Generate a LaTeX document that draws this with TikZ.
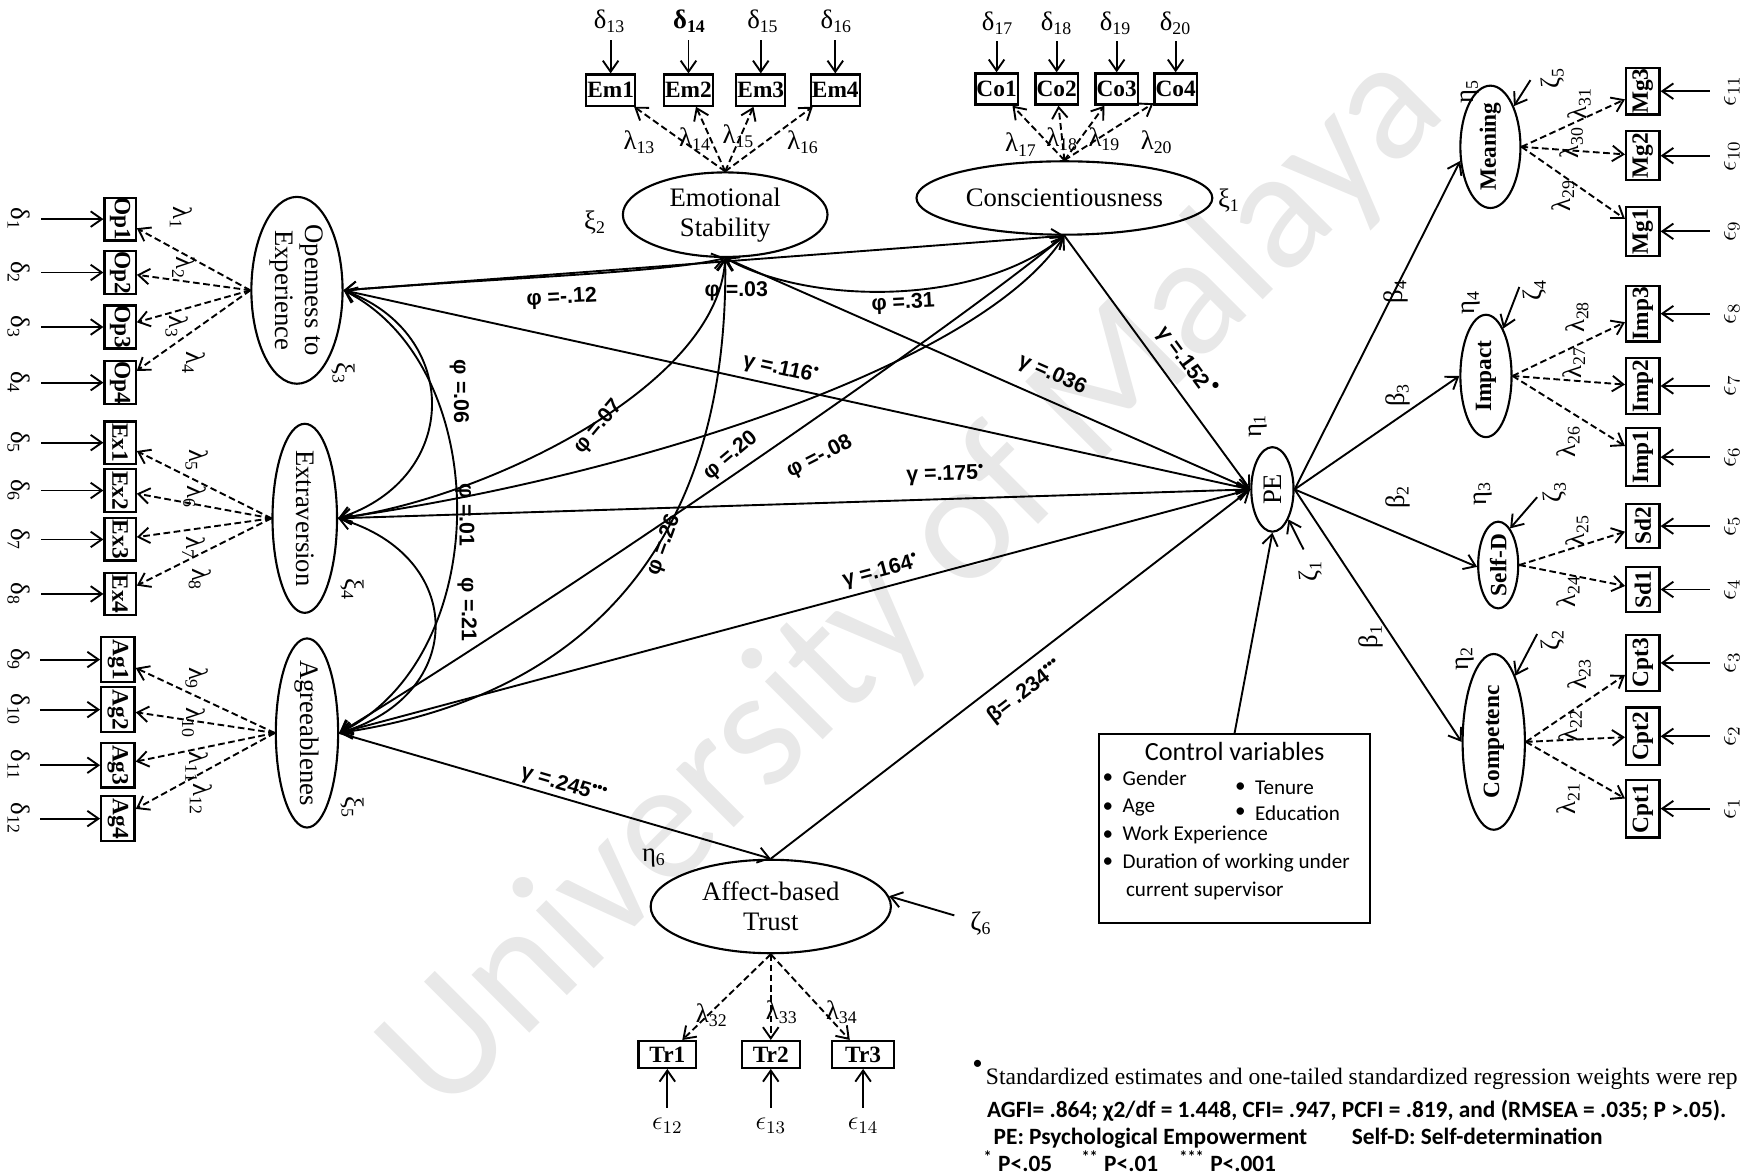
\documentclass[tikz,border=0pt]{standalone}
\usepackage{fontspec}
\setmainfont{Liberation Serif}
\newfontfamily\estfont{Liberation Sans}
\newfontfamily\calfont{Carlito}
\usetikzlibrary{arrows.meta,shapes.geometric}

\newcommand{\gs}[2]{#1\textsubscript{#2}}
\newcommand{\eps}[1]{\(\epsilon_{#1}\)}
\tikzset{hd/.tip={Straight Barb[length=5pt,width=7pt]}}

\begin{document}
\begin{tikzpicture}[x=0.5pt,y=-0.5pt,
  lat/.style={draw, ellipse, line width=0.95pt, inner sep=0pt},
  obs/.style={draw, rectangle, line width=1pt, inner sep=0pt, font=\fontsize{10.5}{10.5}\selectfont\bfseries},
  latname/.style={font=\fontsize{12}{13.5}\selectfont, align=center, inner sep=0pt},
  latbold/.style={font=\fontsize{10.5}{11}\selectfont\bfseries, inner sep=0pt},
  gl/.style={font=\fontsize{12}{12}\selectfont, inner sep=0pt},
  est/.style={font=\estfont\bfseries\fontsize{9.6}{9.6}\selectfont, inner sep=0pt},
  arr/.style={line width=0.85pt, -hd},
  darr/.style={arr, dash pattern=on 3pt off 1.6pt},
  cov/.style={line width=0.85pt, hd-hd},
  ctl/.style={font=\calfont\fontsize{9.5}{10}\selectfont, inner sep=0pt, anchor=west},
  foot/.style={font=\calfont\bfseries\fontsize{10.5}{12}\selectfont, inner sep=0pt, anchor=base west},
]
\path[use as bounding box] (0,0) rectangle (1568,1057);
\clip (0,0) rectangle (1568,1057);

% watermark
\node[font=\calfont\fontsize{77}{77}\selectfont, text=black!9, rotate=45, inner sep=0pt] (wm) at (822,525) {University of Malaya};

% ---------- exogenous factors on the left ----------
\node[lat, minimum width=41pt, minimum height=84pt] (O) at (267,261) {};
\node[latname, rotate=-90] (Ot) at (O) {Openness to\\Experience};
\node[lat, minimum width=29pt, minimum height=85pt] (X) at (274,466) {};
\node[latname, rotate=-90] (Xt) at (X) {Extraversion};
\node[lat, minimum width=28pt, minimum height=85pt] (A) at (276,659) {};
\node[latname, rotate=-90] (At) at (A) {Agreeablenes};
\node[gl, rotate=-90] (xi3) at (309,336) {\gs{ξ}{3}};
\node[gl, rotate=-90] (xi4) at (317,530) {\gs{ξ}{4}};
\node[gl, rotate=-90] (xi5) at (317,726) {\gs{ξ}{5}};

\foreach \i/\y/\lx/\ly in {1/197/163/196,2/245/165/241,3/294/159/294,4/344/174/326}{
  \node[obs, minimum width=14pt, minimum height=19pt] (op\i) at (108,\y) {\rotatebox{-90}{Op\i}};
  \node[gl, rotate=-90] (dop\i) at (17,\y) {\gs{δ}{\i}};
  \coordinate (sop\i) at (37,\y);
  \draw[arr] (sop\i) -- (op\i);
  \draw[darr] (O.west) -- (op\i);
  \node[gl, rotate=-90] (lop\i) at (\lx,\ly) {\gs{λ}{\i}};
}
\foreach \i/\y/\d/\lx/\ly in {1/398/5/177/414,2/441/6/175/447,3/485/7/174/493,4/534/8/180/521}{
  \node[obs, minimum width=14pt, minimum height=19pt] (ex\i) at (108,\y) {\rotatebox{-90}{Ex\i}};
  \node[gl, rotate=-90] (dex\i) at (17,\y) {\gs{δ}{\d}};
  \coordinate (sex\i) at (37,\y);
  \draw[arr] (sex\i) -- (ex\i);
  \draw[darr] (X.west) -- (ex\i);
  \node[gl, rotate=-90] (lex\i) at (\lx,\ly) {\gs{λ}{\d}};
}
\foreach \i/\y/\d/\lx/\ly in {1/593/9/177/610,2/638/10/174/650,3/688/11/177/690,4/736/12/181/719}{
  \node[obs, minimum width=15pt, minimum height=20pt] (ag\i) at (106,\y) {\rotatebox{-90}{Ag\i}};
  \node[gl, rotate=-90] (dag\i) at (17,\y) {\gs{δ}{\d}};
  \coordinate (sag\i) at (36,\y);
  \draw[arr] (sag\i) -- (ag\i);
  \draw[darr] (A.west) -- (ag\i);
  \node[gl, rotate=-90] (lag\i) at (\lx,\ly) {\gs{λ}{\d}};
}

% ---------- exogenous factors on top ----------
\node[lat, minimum width=92pt, minimum height=38pt] (E) at (652,193) {};
\node[latname] (Et) at (E) {Emotional\\Stability};
\node[lat, minimum width=133pt, minimum height=33pt] (C) at (957,178) {};
\node[latname] (Ct) at (C) {Conscientiousness};
\node[gl] (xi2) at (535,200) {\gs{ξ}{2}};
\node[gl] (xi1) at (1105,180) {\gs{ξ}{1}};

\foreach \i/\x/\dx/\d/\lx/\ly/\f in {1/549/548/13/575/128/\mdseries,2/619/620/14/625/125/\bfseries,3/684/686/15/664/122/\mdseries,4/751/752/16/722/128/\mdseries}{
  \node[obs, minimum width=22pt, minimum height=14pt] (em\i) at (\x,81) {Em\i};
  \node[gl] (dem\i) at (\dx,19) {\f\gs{δ}{\d}};
  \coordinate (sem\i) at (\x,36);
  \draw[arr] (sem\i) -- (em\i);
  \draw[darr] (E.north) -- (em\i);
  \node[gl] (lem\i) at (\lx,\ly) {\gs{λ}{\d}};
}
\foreach \i/\x/\dx/\d/\lx/\ly in {1/896/897/17/918/130,2/950/950/18/955/125,3/1004/1003/19/993/125,4/1057/1057/20/1040/128}{
  \node[obs, minimum width=19pt, minimum height=14pt] (co\i) at (\x,80) {Co\i};
  \node[gl] (dco\i) at (\dx,21) {\gs{δ}{\d}};
  \coordinate (sco\i) at (\x,37);
  \draw[arr] (sco\i) -- (co\i);
  \draw[darr] (C.north) -- (co\i);
  \node[gl] (lco\i) at (\lx,\ly) {\gs{λ}{\d}};
}

% ---------- psychological empowerment and its dimensions ----------
\node[lat, minimum width=19pt, minimum height=38pt] (PE) at (1144,440) {};
\node[latname, rotate=90] (PEt) at (PE) {PE};
\node[gl, rotate=90] (eta1) at (1131,383) {\gs{η}{1}};
\node[gl, rotate=90] (zeta1) at (1178,513) {\gs{ζ}{1}};
\coordinate (sz1) at (1172,494);
\draw[arr] (sz1) -- (PE.-62);

\node[lat, minimum width=27pt, minimum height=55pt] (Mn) at (1340,132) {};
\node[latbold, rotate=90] (Mnt) at (Mn) {Meaning};
\node[lat, minimum width=23pt, minimum height=55pt] (Im) at (1336,338) {};
\node[latbold, rotate=90] (Imt) at (Im) {Impact};
\node[lat, minimum width=18pt, minimum height=39pt] (SD) at (1347,508) {};
\node[latbold, rotate=90] (SDt) at (SD) {Self-D};
\node[lat, minimum width=28pt, minimum height=79pt] (Cm) at (1343,667) {};
\node[latbold, rotate=90] (Cmt) at (Cm) {Competenc};

\foreach \n/\y/\h/\e/\l/\lx/\ly/\src in {Mg3/82/21/11/31/1420/93/Mn,Mg2/140/22/10/30/1413/128/Mn,Mg1/208/22/9/29/1405/176/Mn,
  Imp3/282/25/8/28/1418/285/Im,Imp2/347/25/7/27/1415/326/Im,Imp1/411/26/6/26/1410/397/Im,
  Sd2/473/20/5/25/1418/477/SD,Sd1/530/20/4/24/1410/532/SD,
  Cpt3/596/25/3/23/1420/606/Cm,Cpt2/662/26/2/22/1412/652/Cm,Cpt1/727/26/1/21/1410/718/Cm}{
  \node[obs, minimum width=15pt, minimum height=\h pt] (\n) at (1477,\y) {\rotatebox{90}{\n}};
  \node[gl, rotate=90] (e\n) at (1557,\y) {\eps{\e}};
  \coordinate (s\n) at (1537,\y);
  \draw[arr] (s\n) -- (\n);
  \draw[darr] (\src.east) -- (\n);
  \node[gl, rotate=90] (l\n) at (\lx,\ly) {\gs{λ}{\l}};
}

\foreach \k/\ex/\ey/\zx/\zy/\sx/\sy/\tgt in {5/1322/82/1396/70/1376/72/Mn.60,4/1323/272/1380/261/1366/258/Im.70,3/1333/444/1398/442/1382/447/SD.72,2/1317/592/1396/575/1382/570/Cm.72}{
  \node[gl, rotate=90] (eta\k) at (\ex,\ey) {\gs{η}{\k}};
  \node[gl, rotate=90] (zeta\k) at (\zx,\zy) {\gs{ζ}{\k}};
  \coordinate (sz\k) at (\sx,\sy);
  \draw[arr] (sz\k) -- (\tgt);
}

\draw[arr] (PE.east) -- (Mn.205);
\draw[arr] (PE.east) -- (Im.180);
\draw[arr] (PE.east) -- (SD.185);
\draw[arr] (PE.east) -- (Cm.180);
\node[gl, rotate=90] (b4) at (1255,262) {\gs{β}{4}};
\node[gl, rotate=90] (b3) at (1257,355) {\gs{β}{3}};
\node[gl, rotate=90] (b2) at (1257,447) {\gs{β}{2}};
\node[gl, rotate=90] (b1) at (1233,572) {\gs{β}{1}};

% ---------- control variables ----------
\node[draw, line width=1pt, minimum width=122pt, minimum height=85pt, inner sep=0pt] (ctrl) at (1110,745) {};
\draw[arr] (ctrl.north) -- (PE.south);
\node[font=\calfont\fontsize{11.8}{12}\selectfont, inner sep=0pt] (cvt) at (1110,676) {Control variables};
\foreach \k/\bx/\y/\t in {1/994/700/Gender,2/1113/708/Tenure,3/994/726/Age,4/1113/731/Education,5/994/751/Work Experience,6/994/776/Duration of working under}{
  \node[ctl] (cvb\k) at (\bx-3,\y) {•};
  \node[ctl] (cv\k) at (\bx+15,\y) {\t};
}
\node[ctl] (cv7) at (1012,801) {current supervisor};

% ---------- affect-based trust ----------
\node[lat, minimum width=108pt, minimum height=42pt] (T) at (693,815) {};
\node[latname] (Tt) at (T) {Affect-based\\Trust};
\node[gl] (eta6) at (588,771) {\gs{η}{6}};
\node[gl] (zeta6) at (882,830) {\gs{ζ}{6}};
\coordinate (sz6) at (858,823);
\draw[arr] (sz6) -- (T.5);
\foreach \i/\x/\w/\e/\l/\lx/\ly in {1/600/26/12/32/640/913,2/693/26/13/33/703/910,3/776/28/14/34/757/910}{
  \node[obs, minimum width=\w pt, minimum height=12pt] (tr\i) at (\x,948) {Tr\i};
  \node[gl] (etr\i) at (\x,1012) {\eps{\e}};
  \coordinate (str\i) at (\x,996);
  \draw[arr] (str\i) -- (tr\i);
  \draw[darr] (T.south) -- (tr\i);
  \node[gl] (ltr\i) at (\lx,\ly) {\gs{λ}{\l}};
}

% ---------- structural paths ----------
\draw[arr] (O.east) -- (PE.west);
\draw[arr] (E.south) -- (PE.west);
\draw[arr] (C.south) -- (PE.west);
\draw[arr] (X.east) -- (PE.west);
\draw[arr] (A.east) -- (PE.west);
\draw[arr] (A.east) -- (T.north);
\draw[arr] (T.north) -- (PE.west);

% ---------- covariances among the exogenous factors ----------
\draw[cov] (O.east) .. controls (415,300) and (415,430) .. (X.east);
\draw[cov] (O.east) .. controls (445,330) and (445,590) .. (A.east);
\draw[cov] (X.east) .. controls (420,500) and (420,625) .. (A.east);
\draw[cov] (O.east) .. controls (450,250) and (600,245) .. (E.south);
\draw[cov] (O.east) -- (C.south);
\draw[cov] (E.south) .. controls (730,275) and (880,275) .. (C.south);
\draw[cov] (E.south) .. controls (645,350) and (430,450) .. (X.east);
\draw[cov] (E.south) .. controls (655,440) and (570,620) .. (A.east);
\draw[cov] (C.south) .. controls (880,330) and (560,430) .. (X.east);
\draw[cov] (C.south) .. controls (850,300) and (500,540) .. (A.east);

% ---------- estimates ----------
\node[est, rotate=3] (p1) at (505,268) {φ =-.12};
\node[est] (p2) at (662,262) {φ =.03};
\node[est, rotate=3] (p3) at (812,273) {φ =.31};
\node[est, rotate=-90] (p4) at (413,352) {φ =.06};
\node[est, rotate=-90] (p5) at (418,463) {φ =.01};
\node[est, rotate=-90] (p6) at (420,548) {φ =.21};
\node[est, rotate=50] (p7) at (538,384) {φ =.07};
\node[est, rotate=40] (p8) at (657,410) {φ =.20};
\node[est, rotate=27] (p9) at (737,411) {φ =-.08};
\node[est, rotate=70] (p10) at (597,490) {φ =.26};
\node[est, rotate=-12.4] (g1) at (702,332) {γ =.116\textsuperscript{•}};
\node[est, rotate=-23.8] (g2) at (946,337) {γ =.036};
\node[est, rotate=-53.7] (g3) at (1063,322) {γ =.152};
\node[est] (g3d) at (1093,348) {•};
\node[est, rotate=1.8] (g4) at (850,427) {γ =.175\textsuperscript{•}};
\node[est, rotate=14.9] (g5) at (792,514) {γ =.164\textsuperscript{•}};
\node[est, rotate=-16.3] (g6) at (507,706) {γ =.245\textsuperscript{•••}};
\node[est, rotate=37.6] (b5) at (922,622) {β= .234\textsuperscript{•••}};

% ---------- notes ----------
\node[font=\calfont\fontsize{9}{9}\selectfont, inner sep=0pt] (fnb) at (879,957) {•};
\node[anchor=base west, inner sep=0pt, font=\fontsize{10.6}{12}\selectfont] (fn1) at (886,975) {Standardized estimates and one-tailed standardized regression weights were rep};
\node[foot] (fn2) at (887,1005) {AGFI= .864; χ2/df = 1.448, CFI= .947, PCFI = .819, and (RMSEA = .035; P >.05).};
\node[foot] (fn3) at (893,1029) {PE: Psychological Empowerment};
\node[foot] (fn4) at (1215,1029) {Self-D: Self-determination};
\node[foot] (fn5) at (884,1053) {\textsuperscript{*} P<.05};
\node[foot] (fn6) at (972,1053) {\textsuperscript{**} P<.01};
\node[foot] (fn7) at (1060,1053) {\textsuperscript{***} P<.001};
\end{tikzpicture}
\end{document}
